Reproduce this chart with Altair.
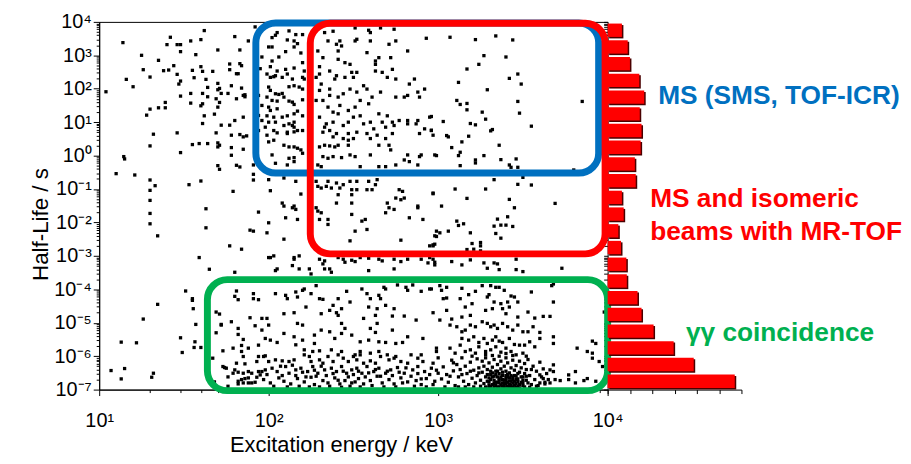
import altair as alt
import pandas as pd

# ---------------- scatter points: (log10 E / keV, log10 T1/2 / s) ----------------
zone_upper_left = [
    (1.62, 3.74), (1.42, 3.54), (1.14, 3.38), (1.40, 3.32), (1.46, 3.32), (1.48, 3.32), (1.54, 3.43), (1.60, 3.47),
    (1.80, 3.56), (1.88, 3.43), (1.70, 3.16), (1.48, 3.11), (1.83, 3.16), (1.25, 3.00), (1.57, 3.02), (1.35, 2.85),
    (1.77, 2.74), (1.83, 2.75), (1.84, 2.69), (1.26, 2.57), (1.38, 2.54), (1.41, 2.56), (1.44, 2.69), (1.55, 2.55),
    (1.60, 2.66), (1.61, 2.52), (1.67, 2.52), (1.77, 2.57), (1.81, 2.45), (1.82, 2.45), (1.16, 2.28), (1.30, 2.35),
    (1.46, 2.43), (1.56, 2.33), (1.63, 2.28), (1.48, 2.23), (1.47, 2.14), (1.70, 2.16), (1.71, 2.01), (1.78, 2.09),
    (1.70, 1.97), (1.20, 2.06), (1.64, 2.04), (1.04, 1.91), (1.84, 2.02), (1.54, 1.86), (1.61, 1.86), (1.64, 1.76),
    (1.48, 1.78), (1.69, 1.70), (1.72, 1.86), (1.76, 1.86), (1.81, 1.70), (1.85, 1.80), (1.86, 1.76), (1.86, 1.82),
    (1.39, 1.59), (1.54, 1.57), (1.61, 1.55), (1.60, 1.49), (1.71, 1.59), (1.35, 1.43), (1.39, 1.43), (1.30, 1.39),
    (1.28, 1.21), (1.70, 1.45), (1.62, 1.19), (1.68, 1.24), (1.80, 1.05), (1.85, 1.15), (1.61, 0.96), (1.72, 0.91),
    (1.77, 0.91), (1.93, 3.50), (1.95, 2.60), (1.93, 2.25), (1.94, 1.80), (1.96, 1.50), (1.94, 1.20), (1.96, 1.05),
    (1.94, 0.75), (1.92, 3.85), (1.96, 2.95),
]
zone_upper_100kev = [
    (2.05, 3.68), (2.04, 3.60), (2.02, 3.53), (2.12, 3.73), (2.11, 3.46), (2.16, 3.62), (2.15, 3.43), (2.17, 3.35),
    (2.20, 3.62), (2.00, 3.25), (2.02, 3.25), (2.10, 3.11), (2.15, 3.25), (2.19, 3.07), (2.06, 2.95), (2.02, 2.83),
    (2.01, 2.66), (2.05, 2.53), (2.10, 2.58), (2.15, 2.62), (2.20, 2.78), (2.21, 2.53), (1.99, 2.44), (2.01, 2.34),
    (2.03, 2.36), (2.04, 2.39), (2.08, 2.34), (2.11, 2.44), (2.14, 2.29), (2.20, 2.34), (2.21, 2.29), (2.00, 2.05),
    (2.01, 1.95), (2.04, 1.85), (2.06, 1.83), (2.08, 1.86), (2.12, 2.06), (2.15, 2.09), (2.18, 2.05), (2.20, 1.99),
    (1.99, 1.75), (2.02, 1.65), (2.05, 1.63), (2.09, 1.75), (2.12, 1.63), (2.14, 1.60), (2.15, 1.53), (2.20, 1.67),
    (2.00, 1.45), (2.01, 1.35), (2.05, 1.40), (1.99, 1.19), (2.03, 1.15), (2.08, 1.15), (2.11, 1.19), (2.15, 1.25),
    (2.17, 1.33), (2.20, 1.19), (2.00, 1.00), (2.04, 1.00), (2.09, 0.90), (2.12, 0.95), (2.14, 0.90), (2.15, 1.00),
    (1.98, 0.85), (2.03, 0.75), (2.11, 0.70), (2.15, 0.85), (2.17, 0.75), (2.20, 0.75), (1.99, 0.61),
]
zone_upper_mid = [
    (2.29, 3.82), (2.33, 3.68), (2.38, 3.72), (2.35, 3.43), (2.40, 3.33), (2.42, 3.43), (2.51, 3.82), (2.52, 3.48),
    (2.51, 3.43), (2.59, 3.75), (2.60, 3.68), (2.60, 3.43), (2.66, 3.82), (2.74, 3.78), (2.75, 3.43), (2.71, 3.33),
    (2.93, 3.51), (2.29, 3.13), (2.32, 2.93), (2.41, 3.13), (2.43, 3.28), (2.58, 3.08), (2.63, 2.83), (2.65, 2.93),
    (2.72, 2.93), (2.82, 3.13), (2.30, 2.66), (2.36, 2.53), (2.41, 2.88), (2.45, 2.78), (2.48, 2.73), (2.49, 2.49),
    (2.52, 2.49), (2.50, 2.34), (2.45, 2.34), (2.40, 2.39), (2.39, 2.29), (2.63, 2.73), (2.63, 2.53), (2.67, 2.49),
    (2.73, 2.58), (2.70, 2.34), (2.75, 2.29), (2.86, 2.29), (2.28, 2.34), (2.30, 2.44), (2.31, 2.14), (2.30, 1.95),
    (2.36, 1.99), (2.41, 1.75), (2.44, 1.85), (2.48, 1.99), (2.52, 1.90), (2.56, 2.09), (2.58, 1.99), (2.61, 1.75),
    (2.66, 1.90), (2.75, 1.75), (2.80, 1.75), (2.82, 1.80), (2.83, 2.14), (2.88, 1.90), (2.89, 1.75), (2.92, 1.99),
    (2.28, 1.65), (2.32, 1.65), (2.36, 1.80), (2.35, 1.45), (2.38, 1.30), (2.42, 1.50), (2.47, 1.35), (2.51, 1.45),
    (2.54, 1.65), (2.59, 1.55), (2.65, 1.25), (2.70, 1.19), (2.73, 1.00), (2.77, 1.05), (2.82, 1.05), (2.87, 0.95),
    (2.88, 1.05), (2.95, 1.15), (2.30, 1.15), (2.34, 0.95), (2.33, 0.85), (2.38, 1.00), (2.41, 1.25), (2.44, 0.90),
    (2.47, 1.00), (2.50, 1.15), (2.54, 1.19), (2.56, 0.95), (2.60, 1.00), (2.62, 0.80), (2.67, 1.00), (2.69, 0.85),
    (2.74, 0.90), (2.82, 0.95), (2.92, 0.80), (2.96, 0.75), (2.32, 0.70), (2.36, 0.75), (2.40, 0.66), (2.47, 0.66),
    (2.52, 0.70), (2.58, 0.66), (2.64, 0.61), (2.73, 0.66), (2.89, 0.66), (2.97, 0.61),
]
zone_upper_right = [
    (3.07, 3.54), (3.22, 3.47), (3.34, 3.58), (3.44, 3.46), (3.27, 2.99), (3.40, 2.95), (3.17, 2.59), (3.24, 2.73),
    (3.12, 2.19), (3.42, 2.31), (3.47, 2.44), (3.49, 2.14), (3.29, 1.97), (3.11, 1.65), (3.13, 1.53), (3.17, 1.56),
    (3.17, 1.37), (3.47, 1.62), (3.48, 1.27), (3.26, 1.30), (3.28, 1.09), (3.85, 1.62), (2.96, 1.17), (3.03, 1.02),
    (2.96, 0.76), (3.19, 0.96), (3.22, 0.92), (3.32, 0.78), (3.31, 0.74), (3.55, 0.88), (3.05, 0.60), (3.18, 0.58),
]
zone_middle_left = [
    (1.32, 0.64), (1.46, 0.68), (1.69, 0.68), (1.78, 0.61), (1.83, 0.63), (1.85, 0.56), (1.87, 0.59), (1.30, 0.29),
    (1.55, 0.33), (1.59, 0.36), (1.64, 0.36), (1.70, 0.38), (1.71, 0.31), (1.70, 0.26), (1.78, 0.24), (1.85, 0.19),
    (1.48, 0.09), (1.145, -0.03), (1.15, -0.10), (1.78, 0.01), (1.70, -0.30), (1.71, -0.41), (1.81, -0.29),
    (1.83, -0.34), (1.91, -0.28), (1.10, -0.54), (1.21, -0.58), (1.30, -0.73), (1.33, -0.90), (1.53, -0.87),
    (1.60, -0.76), (1.91, -0.56), (1.91, -0.73), (1.30, -1.04), (1.79, -1.07), (1.30, -1.34), (1.63, -1.59),
    (1.94, -1.69), (1.30, -1.73), (1.30, -2.04), (1.63, -2.16), (1.89, -2.23), (1.91, -2.26), (1.345, -2.40),
    (1.77, -2.70), (1.84, -2.80), (1.59, -3.05),
]
zone_middle_mid = [
    (2.05, 0.68), (2.11, 0.66), (2.15, 0.71), (2.00, 0.41), (2.03, 0.46), (2.09, 0.31), (2.12, 0.26), (2.15, 0.26),
    (2.17, 0.22), (2.19, 0.17), (2.02, 0.02), (2.04, -0.23), (2.12, -0.08), (2.15, -0.06), (2.20, 0.07),
    (2.11, -0.28), (2.15, -0.18), (2.38, 0.56), (2.44, 0.51), (2.47, 0.46), (2.50, 0.51), (2.30, 0.26), (2.33, 0.31),
    (2.36, 0.29), (2.39, 0.26), (2.41, 0.31), (2.47, 0.31), (2.32, -0.03), (2.35, -0.08), (2.38, -0.03),
    (2.43, -0.06), (2.48, 0.02), (2.51, -0.03), (2.54, -0.33), (2.60, 0.02), (2.60, 0.51), (2.65, 0.31),
    (2.69, 0.51), (2.71, 0.31), (2.72, 0.17), (2.29, -0.28), (2.31, -0.33), (2.65, -0.33), (2.69, -0.33),
    (2.75, -0.28), (2.80, -0.13), (2.82, 0.02), (2.83, -0.18), (2.88, -0.28), (2.89, -0.03), (2.90, 0.02),
    (2.98, 0.02), (2.00, -0.72), (2.01, -1.05), (2.09, -0.67), (2.16, -0.77), (2.19, -1.15), (2.28, -0.77),
    (2.29, -0.92), (2.31, -0.97), (2.34, -0.92), (2.35, -0.77), (2.37, -0.97), (2.40, -0.82), (2.42, -0.97),
    (2.44, -0.87), (2.48, -0.77), (2.49, -1.02), (2.52, -0.77), (2.52, -1.02), (2.58, -1.02), (2.59, -0.77),
    (2.61, -1.02), (2.63, -0.87), (2.64, -0.72), (2.41, -1.17), (2.49, -1.17), (2.40, -1.42), (2.49, -1.42),
    (2.08, -1.42), (2.09, -1.51), (2.14, -1.56), (2.15, -1.51), (2.16, -1.61), (2.28, -1.56), (2.29, -1.66),
    (2.31, -1.71), (2.00, -2.01), (2.10, -1.86), (2.17, -1.91), (2.30, -1.91), (2.35, -1.91), (2.35, -2.06),
    (2.49, -1.76), (2.55, -1.96), (2.57, -1.91), (2.58, -2.21), (2.51, -2.26), (2.69, -1.71), (2.70, -1.42),
    (2.71, -1.56), (2.74, -1.61), (2.75, -1.27), (2.77, -1.02), (2.78, -1.32), (2.79, -1.07), (2.80, -1.27),
    (2.88, -1.51), (2.88, -1.56), (2.83, -1.86), (2.91, -1.91), (2.97, -1.12), (2.98, -2.40), (2.99, -2.26),
    (1.99, -2.31), (2.09, -2.50), (2.48, -2.55), (2.78, -2.53), (2.95, -2.70), (2.97, -2.67), (2.00, -3.05),
    (2.03, -3.00), (2.15, -3.05), (2.18, -3.00), (2.41, -3.05), (2.44, -3.10), (2.49, -3.13), (2.54, -3.05),
    (2.59, -3.07), (2.65, -3.10), (2.74, -3.10), (2.82, -3.10), (2.90, -3.10), (2.95, -3.05),
]
zone_middle_right = [
    (3.06, 0.56), (3.14, 0.41), (3.08, 0.24), (3.36, 0.31), (3.13, 0.10), (3.12, -0.00), (2.99, -0.00),
    (3.22, -0.13), (3.22, -0.22), (3.27, 0.00), (3.37, -0.12), (3.46, -0.10), (3.13, -0.30), (3.42, -0.28),
    (3.43, -0.35), (3.47, -0.35), (3.80, -0.43), (3.33, -0.72), (3.28, -1.00), (3.10, -1.00), (2.97, -1.14),
    (3.17, -1.28), (3.02, -1.51), (3.47, -0.86), (3.55, -0.88), (3.50, -0.65), (3.42, -1.31), (3.45, -1.56),
    (3.69, -1.43), (3.11, -1.96), (3.12, -2.09), (3.15, -2.04), (3.19, -2.31), (3.06, -2.26), (3.01, -2.31),
    (2.99, -2.42), (3.35, -1.90), (3.41, -1.83), (3.33, -2.11), (3.37, -2.08), (3.40, -2.08), (3.44, -2.12),
    (3.34, -2.33), (3.37, -2.47), (2.97, -2.70), (2.98, -2.65), (3.20, -2.63), (3.25, -2.60), (3.25, -2.70),
    (3.17, -2.81), (3.21, -2.80), (3.25, -2.85), (3.46, -3.10),
]
zone_lower_left = [
    (1.65, -3.40), (1.80, -3.49), (1.51, -4.05), (1.55, -4.28), (1.55, -4.33), (1.345, -4.45), (1.555, -4.58),
    (1.26, -4.89), (1.57, -5.05), (1.48, -5.45), (1.13, -5.58), (1.22, -5.60), (1.565, -5.57), (1.56, -5.74),
    (1.60, -5.74), (1.49, -5.89), (1.07, -6.43), (1.15, -6.37), (1.13, -6.68), (1.32, -6.51), (1.31, -6.63),
    (1.81, -4.05), (1.80, -4.21), (1.82, -4.31), (1.91, -4.13), (1.91, -4.28), (1.94, -4.31), (1.69, -4.68),
    (1.71, -4.74), (1.89, -4.85), (1.96, -4.87), (1.72, -5.05), (1.78, -4.97), (1.72, -5.07), (1.82, -5.17),
    (1.92, -5.09), (1.96, -5.22), (1.69, -5.30), (1.82, -5.35), (1.85, -5.50), (1.73, -5.84), (1.79, -5.76),
    (1.84, -5.68), (1.84, -5.86), (1.88, -5.76), (1.94, -5.67), (1.85, -6.01), (1.94, -6.01), (1.98, -5.99),
    (1.93, -6.16), (1.67, -6.06), (1.81, -6.21), (1.86, -6.23), (1.73, -6.31), (1.75, -6.36), (1.74, -6.34),
    (1.80, -6.41), (1.82, -6.48), (1.79, -6.51), (1.85, -6.51), (1.88, -6.46), (1.90, -6.51), (1.94, -6.46),
    (1.96, -6.46), (1.95, -6.56), (1.76, -6.62), (1.82, -6.75), (1.84, -6.70), (1.86, -6.67), (1.88, -6.65),
    (1.93, -6.63), (1.82, -6.83), (1.85, -6.80), (1.88, -6.80), (1.90, -6.80), (1.92, -6.78), (1.68, -6.77),
    (1.76, -6.90),
]
zone_lower_mid = [
    (2.01, -3.05), (2.15, -3.10), (2.30, -3.10), (2.33, -3.15), (2.45, -3.19), (2.51, -3.17), (2.67, -3.15),
    (2.78, -3.17), (2.94, -3.21), (2.98, -3.27), (2.04, -3.44), (2.05, -3.39), (2.14, -3.29), (2.18, -3.39),
    (2.24, -3.39), (2.25, -3.54), (2.32, -3.24), (2.33, -3.39), (2.36, -3.39), (2.37, -3.49), (2.59, -3.44),
    (2.74, -3.39),
    (2.04, -4.13), (2.10, -4.18), (2.11, -4.28), (2.16, -4.08), (2.17, -4.23), (2.20, -4.03), (2.21, -3.99),
    (2.25, -4.13), (2.28, -3.89), (2.30, -4.28), (2.32, -4.30), (2.41, -4.28), (2.46, -4.06), (2.55, -3.99),
    (2.58, -4.13), (2.60, -4.28), (2.65, -4.18), (2.66, -4.28), (2.68, -3.94), (2.69, -3.99), (2.76, -3.87),
    (2.81, -3.94), (2.82, -4.03), (2.85, -3.87), (2.90, -4.06), (2.95, -3.99), (3.01, -3.89),
    (1.99, -4.87), (2.00, -5.07), (2.09, -4.73), (2.15, -4.70), (2.22, -4.53), (2.31, -4.73), (2.36, -4.63),
    (2.38, -4.48), (2.40, -4.70), (2.41, -4.78), (2.43, -4.58), (2.48, -4.38), (2.56, -4.87), (2.59, -4.53),
    (2.64, -4.58), (2.63, -4.78), (2.69, -4.48), (2.73, -4.80), (2.74, -4.58), (2.80, -4.80), (2.87, -4.92),
    (2.97, -4.70), (2.17, -5.02), (2.20, -5.07), (2.43, -5.02), (2.45, -5.17), (2.60, -5.17), (2.64, -5.02),
    (1.98, -5.47), (2.01, -5.52), (2.05, -5.59), (2.09, -5.32), (2.15, -5.42), (2.16, -5.66), (2.20, -5.52),
    (2.27, -5.37), (2.27, -5.62), (2.31, -5.22), (2.36, -5.27), (2.39, -5.47), (2.43, -5.32), (2.49, -5.37),
    (2.54, -5.57), (2.59, -5.52), (2.63, -5.29), (2.65, -5.57), (2.69, -5.59), (2.73, -5.22), (2.75, -5.62),
    (2.79, -5.59), (2.82, -5.42), (2.91, -5.47), (2.99, -5.86), (2.90, -5.96), (2.26, -5.86), (2.30, -5.84),
    (2.21, -5.81), (2.37, -5.81), (2.43, -5.86), (2.51, -5.96), (2.54, -5.86), (2.60, -5.91), (2.65, -5.86),
    (2.70, -5.96), (2.75, -6.01), (2.84, -5.96),
    (1.97, -6.01), (2.00, -6.16), (2.04, -6.11), (2.08, -6.14), (2.12, -6.16), (2.15, -6.11), (2.21, -5.96),
    (2.24, -6.01), (2.25, -6.16), (2.30, -6.11), (2.32, -6.21), (2.35, -6.01), (2.38, -6.16), (2.41, -5.96),
    (2.44, -6.06), (2.47, -6.16), (2.50, -6.01), (2.52, -6.11), (2.54, -5.96), (2.56, -6.21), (2.60, -6.14),
    (2.63, -6.21), (2.66, -6.01), (2.71, -6.11), (2.74, -6.06), (2.78, -6.16), (2.82, -6.21), (2.88, -6.06),
    (2.91, -6.16), (2.97, -6.21),
    (1.98, -6.41), (2.02, -6.36), (2.05, -6.46), (2.10, -6.31), (2.12, -6.51), (2.16, -6.41), (2.19, -6.36),
    (2.23, -6.46), (2.26, -6.31), (2.29, -6.51), (2.33, -6.41), (2.37, -6.36), (2.40, -6.46), (2.43, -6.31),
    (2.46, -6.51), (2.49, -6.41), (2.52, -6.36), (2.55, -6.51), (2.58, -6.31), (2.62, -6.46), (2.65, -6.36),
    (2.69, -6.51), (2.72, -6.41), (2.76, -6.34), (2.80, -6.51), (2.85, -6.41), (2.88, -6.31), (2.92, -6.46),
    (2.96, -6.36), (3.00, -6.51),
    (1.97, -6.70), (2.01, -6.80), (2.06, -6.65), (2.09, -6.75), (2.13, -6.83), (2.17, -6.67), (2.21, -6.77),
    (2.25, -6.63), (2.27, -6.85), (2.32, -6.73), (2.35, -6.80), (2.39, -6.65), (2.42, -6.83), (2.45, -6.73),
    (2.49, -6.80), (2.51, -6.77), (2.53, -6.67), (2.56, -6.83), (2.60, -6.73), (2.64, -6.60), (2.67, -6.80),
    (2.71, -6.70), (2.74, -6.83), (2.78, -6.65), (2.82, -6.77), (2.87, -6.73), (2.90, -6.85), (2.93, -6.67),
    (2.98, -6.75),
]
zone_bottom_band = [
    (1.99, -6.55), (2.03, -6.90), (2.07, -6.30), (2.08, -6.58), (2.11, -6.92), (2.14, -6.27), (2.16, -6.58),
    (2.18, -6.90), (2.20, -6.48), (2.22, -6.62), (2.24, -6.92), (2.27, -6.42), (2.28, -6.60), (2.30, -6.92),
    (2.31, -6.30), (2.34, -6.58), (2.36, -6.90), (2.38, -6.52), (2.41, -6.72), (2.43, -6.93), (2.44, -6.45),
    (2.47, -6.62), (2.48, -6.90), (2.50, -6.55), (2.53, -6.45), (2.54, -6.92), (2.57, -6.62), (2.59, -6.50),
    (2.61, -6.88), (2.63, -6.40), (2.66, -6.60), (2.68, -6.92), (2.70, -6.45), (2.73, -6.58), (2.75, -6.92),
    (2.77, -6.48), (2.79, -6.80), (2.81, -6.35), (2.84, -6.60), (2.86, -6.90), (2.88, -6.52), (2.90, -6.68),
    (2.93, -6.92), (2.95, -6.55), (2.97, -6.85), (2.99, -6.42), (3.02, -6.68), (3.04, -6.92), (3.07, -6.60),
    (3.09, -6.20), (3.12, -6.92), (3.14, -6.55), (3.16, -6.92), (3.19, -6.45), (3.21, -6.92), (3.24, -6.50),
]
zone_lower_right = [
    (2.97, -3.10), (3.08, -3.17), (3.14, -3.27), (3.19, -3.12), (3.27, -3.21), (3.29, -3.37), (3.33, -3.21),
    (3.35, -3.24), (3.36, -3.41), (3.46, -3.41), (3.50, -3.47), (3.73, -3.37), (2.98, -3.19),
    (2.96, -3.99), (3.02, -4.03), (3.05, -3.94), (3.14, -3.97), (3.22, -4.06), (3.26, -3.89), (3.31, -3.89),
    (3.34, -3.94), (3.36, -3.94), (3.39, -4.03), (3.55, -4.08), (3.67, -3.89), (3.68, -3.84), (3.03, -4.28),
    (3.05, -4.26), (3.13, -4.28), (3.18, -4.16), (3.20, -4.43), (3.29, -4.23), (3.30, -4.16), (3.33, -4.38),
    (3.37, -4.43), (3.41, -4.38), (3.43, -4.20), (3.45, -4.23), (3.47, -4.38), (3.68, -4.38), (3.05, -4.63),
    (3.14, -4.83), (3.16, -4.53), (3.19, -4.78), (3.28, -4.63), (3.32, -4.58), (3.38, -4.58), (3.40, -4.73),
    (3.42, -4.53), (3.47, -4.83), (3.53, -4.68), (3.57, -4.86), (3.62, -4.81), (3.66, -4.81), (3.98, -4.68),
    (3.01, -4.92), (3.08, -4.89),
    (3.07, -5.07), (3.11, -5.12), (3.14, -5.27), (3.16, -5.22), (3.19, -5.07), (3.22, -5.12), (3.26, -4.97),
    (3.29, -5.02), (3.31, -5.12), (3.33, -5.07), (3.35, -5.17), (3.38, -5.02), (3.41, -5.12), (3.44, -5.22),
    (3.47, -5.07), (3.50, -5.27), (3.53, -5.27), (3.56, -5.12), (3.60, -5.29), (3.68, -5.42), (3.14, -5.47),
    (3.18, -5.52), (3.21, -5.42), (3.24, -5.59), (3.27, -5.47), (3.29, -5.62), (3.32, -5.52), (3.34, -5.42),
    (3.36, -5.55), (3.38, -5.59), (3.42, -5.47), (3.45, -5.65), (3.48, -5.67), (3.51, -5.67), (3.54, -5.57),
    (3.57, -5.72), (3.60, -5.47), (3.68, -5.62), (3.82, -5.76), (3.88, -5.86), (3.91, -5.55), (3.93, -5.62),
    (3.07, -5.76), (3.10, -5.91), (3.13, -5.67), (3.16, -5.86), (3.19, -5.81), (3.22, -5.91), (3.24, -5.72),
    (3.28, -5.86), (3.31, -5.81), (3.34, -5.72), (3.37, -5.88), (3.40, -5.76), (3.43, -5.86), (3.46, -5.96),
    (3.50, -5.91), (2.99, -5.76),
    (3.91, -6.06), (3.95, -6.16), (3.97, -6.31), (3.81, -6.46), (3.77, -6.56), (3.77, -6.70), (3.81, -6.80),
    (3.86, -6.73), (3.88, -6.67), (3.93, -6.75), (3.91, -5.91), (3.66, -6.41), (3.68, -6.26), (3.68, -6.46),
    (3.65, -6.70), (3.69, -6.70), (3.66, -6.80), (3.72, -6.73), (3.63, -6.83), (3.60, -6.56), (3.62, -6.67),
]
zone_dense_cluster = [
    (3.00, -6.05), (3.03, -6.32), (3.05, -6.55), (3.06, -6.78), (3.08, -6.12), (3.09, -6.44), (3.10, -6.88),
    (3.11, -6.25), (3.12, -6.62), (3.13, -6.40), (3.14, -6.05), (3.15, -6.75), (3.16, -6.30), (3.17, -6.52),
    (3.18, -6.85), (3.19, -6.18), (3.20, -6.66), (3.21, -6.42), (3.22, -6.80), (3.23, -6.08), (3.23, -6.58),
    (3.24, -6.35), (3.25, -6.72), (3.25, -6.90),
    (3.26, -6.15), (3.26, -6.48), (3.27, -6.82), (3.27, -6.30), (3.28, -6.62), (3.28, -6.05), (3.29, -6.75),
    (3.29, -6.40), (3.30, -6.88), (3.30, -6.20), (3.31, -6.55), (3.31, -6.70), (3.32, -6.33), (3.32, -6.85),
    (3.33, -6.10), (3.33, -6.60), (3.34, -6.45), (3.34, -6.78), (3.35, -6.25), (3.35, -6.92), (3.36, -6.52),
    (3.36, -6.68), (3.37, -6.15), (3.37, -6.38), (3.38, -6.80), (3.38, -6.58), (3.39, -6.30), (3.39, -6.88),
    (3.40, -6.45), (3.40, -6.72), (3.40, -6.05), (3.41, -6.62), (3.41, -6.20), (3.42, -6.85), (3.42, -6.50),
    (3.43, -6.35), (3.43, -6.75), (3.44, -6.92), (3.44, -6.12), (3.45, -6.58), (3.45, -6.42), (3.46, -6.82),
    (3.46, -6.28), (3.47, -6.68), (3.47, -6.90), (3.48, -6.48), (3.48, -6.15), (3.49, -6.78), (3.49, -6.35),
    (3.50, -6.62), (3.50, -6.88), (3.51, -6.22), (3.51, -6.52), (3.52, -6.72), (3.52, -6.40),
    (3.30, -6.78), (3.32, -6.50), (3.34, -6.88), (3.36, -6.80), (3.38, -6.90), (3.40, -6.82), (3.42, -6.65),
    (3.44, -6.70), (3.46, -6.60), (3.48, -6.85), (3.35, -6.62), (3.39, -6.72), (3.43, -6.88), (3.37, -6.86),
    (3.41, -6.90), (3.45, -6.86), (3.33, -6.72), (3.31, -6.90), (3.47, -6.76), (3.50, -6.80),
    (3.53, -6.10), (3.54, -6.58), (3.55, -6.85), (3.56, -6.30), (3.57, -6.70), (3.58, -6.45), (3.59, -6.88),
    (3.60, -6.18), (3.61, -6.62), (3.62, -6.38), (3.63, -6.78), (3.64, -6.52), (3.55, -6.40), (3.58, -6.90),
    (3.60, -6.80), (3.20, -6.00), (3.28, -5.95), (3.36, -6.00), (3.44, -5.98), (3.52, -6.00), (3.40, -5.92),
    (3.32, -5.98),
    (3.28, -6.92), (3.29, -6.55), (3.30, -6.65), (3.31, -6.45), (3.32, -6.62), (3.33, -6.92), (3.34, -6.55),
    (3.35, -6.78), (3.36, -6.92), (3.37, -6.62), (3.38, -6.48), (3.39, -6.95), (3.40, -6.58), (3.41, -6.78),
    (3.42, -6.94), (3.43, -6.58), (3.44, -6.80), (3.45, -6.95), (3.46, -6.70), (3.47, -6.52), (3.48, -6.95),
    (3.49, -6.62), (3.50, -6.72), (3.51, -6.92), (3.52, -6.60), (3.53, -6.80), (3.54, -6.93), (3.36, -6.72),
    (3.40, -6.65), (3.44, -6.62), (3.33, -6.82), (3.38, -6.70), (3.42, -6.74), (3.46, -6.94), (3.30, -6.95),
    (3.41, -6.55), (3.35, -6.45), (3.45, -6.75), (3.39, -6.82), (3.43, -6.95),
]

# ---------------- half-life histogram (half-decade bins, top to bottom) ----------------
bin_lower_log10 = ["3.5", "3.0", "2.5", "2.0", "1.5", "1.0", "0.5", "0.0", "-0.5", "-1.0", "-1.5",
                   "-2.0", "-2.5", "-3.0", "-3.5", "-4.0", "-4.5", "-5.0", "-5.5", "-6.0", "-6.5", "-7.0"]
bin_counts = [32, 45, 50, 71, 82, 72, 76, 74, 61, 63, 32, 36, 24, 30, 42, 43, 67, 76, 103, 148, 193, 285]

# ---------------- technique regions (rounded boxes) ----------------
box_names = ["MS (SMS, TOF-ICR)", "MS and isomeric beams with MR-TOF", "γγ coincidence"]
box_colors = ["#0070C0", "#FF0000", "#00B050"]
box_e_lo = [84, 176, 43.5]
box_e_hi = [8850, 9660, 10000]
box_t_lo = [0.30, 1.15e-3, 9.3e-8]
box_t_hi = [9300, 9100, 1.95e-4]

# ---------------- annotation texts ----------------
ann_text = ["MS (SMS, TOF-ICR)", "MS and isomeric", "beams with MR-TOF", "γγ coincidence"]
ann_color = ["#0070C0", "#FF0000", "#FF0000", "#00B050"]
ann_e = [19860, 17820, 17820, 28960]
ann_t = [61.8, 0.0493, 0.00519, 4.9e-6]

# ---------------- axis ticks ----------------
x_major = [10, 100, 1000, 10000]
x_minor = [20, 30, 40, 50, 60, 70, 80, 90, 200, 300, 400, 500, 600, 700, 800, 900,
           2000, 3000, 4000, 5000, 6000, 7000, 8000, 9000]
y_major = [1e-7, 1e-6, 1e-5, 1e-4, 1e-3, 1e-2, 1e-1, 1, 10, 100, 1000, 10000]
y_minor = [m * 10.0 ** k for k in range(-7, 4) for m in range(2, 10)]

FONT = "Liberation Sans"

pts = (zone_upper_left + zone_upper_100kev + zone_upper_mid + zone_upper_right + zone_middle_left
       + zone_middle_mid + zone_middle_right + zone_lower_left + zone_lower_mid + zone_bottom_band
       + zone_lower_right + zone_dense_cluster)
dots_df = pd.DataFrame({"energy": [10 ** p[0] for p in pts], "halflife": [10 ** p[1] for p in pts]})
box_df = pd.DataFrame({"name": box_names, "color": box_colors, "e_lo": box_e_lo, "e_hi": box_e_hi,
                       "t_lo": box_t_lo, "t_hi": box_t_hi})
ann_df = pd.DataFrame({"label": ann_text, "color": ann_color, "e": ann_e, "t": ann_t})
hist_df = pd.DataFrame({"bin": bin_lower_log10, "count": bin_counts})

SUP = "['10⁻⁷','10⁻⁶','10⁻⁵','10⁻⁴','10⁻³','10⁻²','10⁻¹','10⁰','10¹','10²','10³','10⁴']"
LABEL = SUP + "[round(log(datum.value)/LN10) + 7]"

x_scale = alt.Scale(type="log", domain=[10, 10000], nice=False)
y_scale = alt.Scale(type="log", domain=[1e-7, 1e4], nice=False)

x_axis = alt.Axis(values=x_major, labelExpr=LABEL, labelOverlap=False, labelFlush=False, orient="bottom",
                  tickSize=6, labelFontSize=20, labelPadding=15, grid=False,
                  title="Excitation energy / keV", titleFontSize=22, titleFontWeight="normal",
                  titleX=244, titleY=55, titleAlign="center", titleBaseline="middle", titleAngle=0)
y_axis = alt.Axis(values=y_major, labelExpr=LABEL, labelOverlap=False, labelFlush=False, orient="left",
                  tickSize=6, labelFontSize=20, labelPadding=2, grid=False,
                  title="Half-Life / s", titleFontSize=22.5, titleFontWeight="normal",
                  titleX=-59, titleY=204, titleAlign="center", titleBaseline="middle", titleAngle=270)
x_minor_axis = alt.Axis(values=x_minor, labels=False, tickSize=3, domain=False, grid=False, title=None,
                        orient="bottom")
y_minor_axis = alt.Axis(values=y_minor, labels=False, tickSize=3, domain=False, grid=False, title=None,
                        orient="left")
y_inner_axis = alt.Axis(values=y_major + y_minor, labels=False, tickSize=4, offset=-4, domain=False,
                        grid=False, title=None, orient="right")

dots = alt.Chart(dots_df).mark_square(size=11, color="black", opacity=1).encode(
    x=alt.X("energy:Q", scale=x_scale, axis=x_axis),
    y=alt.Y("halflife:Q", scale=y_scale, axis=y_axis),
)
boxes = alt.Chart(box_df).mark_rect(fillOpacity=0, strokeWidth=7, cornerRadius=20).encode(
    x=alt.X("e_lo:Q", scale=x_scale, axis=x_minor_axis), x2="e_hi:Q",
    y=alt.Y("t_lo:Q", scale=y_scale, axis=y_minor_axis), y2="t_hi:Q",
    stroke=alt.Stroke("color:N", scale=None),
)
texts = alt.Chart(ann_df).mark_text(align="left", baseline="middle", fontSize=26.5, fontWeight="bold",
                                    font=FONT).encode(
    x=alt.X("e:Q", scale=x_scale, axis=None),
    y=alt.Y("t:Q", scale=y_scale, axis=y_inner_axis),
    text="label:N",
    color=alt.Color("color:N", scale=None),
)
scatter = alt.layer(dots, boxes, texts).resolve_axis(x="independent", y="independent").properties(
    width=513, height=371, view=alt.ViewBackground(stroke="black", strokeWidth=1))

hbase = alt.Chart(hist_df).encode(
    y=alt.Y("bin:N", sort=bin_lower_log10, scale=alt.Scale(paddingInner=0.2, paddingOuter=0.1), axis=None),
    x=alt.X("count:Q", scale=alt.Scale(domain=[0, 300], nice=False),
            axis=alt.Axis(values=[0, 50, 100, 150, 200, 250, 300], labels=False, tickSize=4,
                          title=None, grid=False)),
)
hist = alt.layer(
    hbase.mark_bar(color="#4a0000", xOffset=1.5, yOffset=1.5),
    hbase.mark_bar(color="#FF0000"),
).properties(width=135, height=371, view=alt.ViewBackground(stroke="transparent"))

chart = (
    alt.hconcat(scatter, hist, spacing=0, bounds="flush")
    .properties(padding={"left": 21, "top": 1, "right": 0, "bottom": 0})
    .configure(font=FONT)
    .configure_axis(labelColor="black", titleColor="black", tickColor="black", domainColor="black",
                    labelFont=FONT, titleFont=FONT, domainWidth=1, tickWidth=1)
    .configure_view(stroke="transparent")
)
chart.save("out.html", embed_options={"renderer": "svg", "actions": False})
